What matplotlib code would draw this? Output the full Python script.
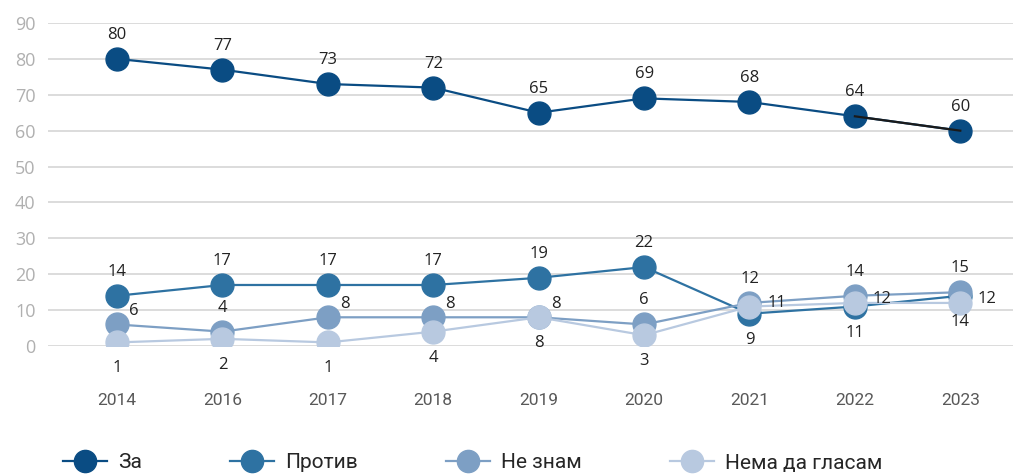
import matplotlib.pyplot as plt
from matplotlib.lines import Line2D

years = ['2014', '2016', '2017', '2018', '2019', '2020', '2021', '2022', '2023']
za = [80, 77, 73, 72, 65, 69, 68, 64, 60]
protiv = [14, 17, 17, 17, 19, 22, 9, 11, 14]
ne_znam = [6, 4, 8, 8, 8, 6, 12, 14, 15]
nema = [1, 2, 1, 4, 8, 3, 11, 12, 12]

names = ['За', 'Против', 'Не знам', 'Нема да гласам']
colors = ['#0a4c83', '#2e72a2', '#7d9fc4', '#b8c9e0']

# label placement per point: a = above, ar = above right, b = below, r = right
places = {
    'За': ['a'] * 9,
    'Против': ['a'] * 6 + ['b'] * 3,
    'Не знам': ['ar', 'a', 'ar', 'ar', 'ar', 'a', 'a', 'a', 'a'],
    'Нема да гласам': ['b'] * 6 + ['r'] * 3,
}
offs = {'a': (0, 24), 'ar': (17, 13), 'b': (0, -26), 'r': (27, 4)}

fig = plt.figure(figsize=(10.13, 4.74), dpi=100)
ax = fig.add_axes([48 / 1013, 1 - 346 / 474, 1 - 48 / 1013, (346 - 23) / 474])

x = list(range(len(years)))
series = [za, protiv, ne_znam, nema]
for i, (vals, name, c) in enumerate(zip(series, names, colors)):
    ax.plot(x, vals, color=c, lw=1.6, marker='o', ms=16.5, mec=c, zorder=3 + i)
    for xi, v, p in zip(x, vals, places[name]):
        dx, dy = offs[p]
        ax.annotate(str(v), (xi, v), xytext=(dx, dy), textcoords='offset pixels',
                    ha='center', va='center', fontsize=12, color='#222222',
                    family='Open Sans', zorder=10)

# last segment of "За" drawn in black over the markers
ax.plot(x[-2:], za[-2:], color='#1a1a1a', lw=1.6, zorder=8)

ax.set_xlim(-0.655, 8.5)
ax.set_ylim(0, 90)
ax.set_yticks(range(0, 91, 10))
ax.set_xticks(x)
ax.set_xticklabels(years, family='Roboto', fontsize=12.5, color='#595959')
for lab in ax.get_yticklabels():
    lab.set_family('Open Sans')
ax.tick_params(axis='y', length=0, pad=9, labelsize=13, labelcolor='#b0b0b0')
ax.tick_params(axis='x', length=0, pad=34)
ax.grid(axis='y', color='#d9d9d9', lw=1.3)
ax.set_axisbelow(True)
for s in ax.spines.values():
    s.set_visible(False)

handles = [Line2D([], [], color=c, lw=1.6, marker='o', ms=16, mec=c) for c in colors]
leg = fig.legend(handles, names, loc='center left', bbox_to_anchor=(63 / 1013, 11 / 474),
                 ncol=4, frameon=False, borderpad=0, borderaxespad=0, handlelength=2.1,
                 handletextpad=0.53, columnspacing=4.25,
                 prop={'family': 'Roboto', 'size': 15})
for t in leg.get_texts():
    t.set_color('#262626')

fig.savefig('out.png', dpi=100)
